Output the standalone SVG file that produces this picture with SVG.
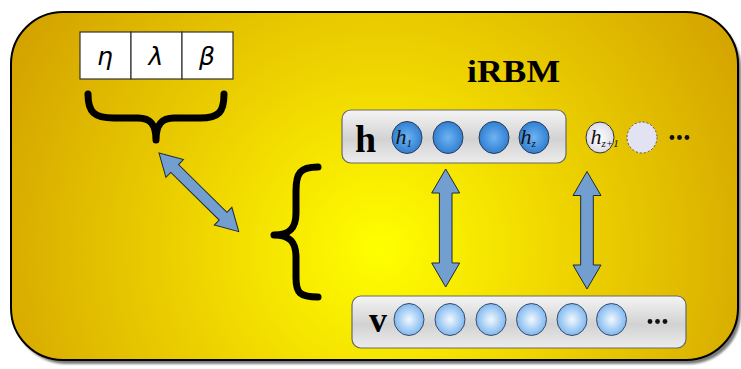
<svg xmlns="http://www.w3.org/2000/svg" width="741" height="369" viewBox="0 0 741 369">
  <defs>
    <radialGradient id="bg" gradientUnits="userSpaceOnUse" cx="380" cy="250" r="430">
      <stop offset="0" stop-color="#ffff00"/>
      <stop offset="0.35" stop-color="#f2dc00"/>
      <stop offset="1" stop-color="#d2a000"/>
    </radialGradient>
    <linearGradient id="layer" x1="0" y1="0" x2="0" y2="1">
      <stop offset="0" stop-color="#f4f4f4"/>
      <stop offset="0.55" stop-color="#d2d2d2"/>
      <stop offset="1" stop-color="#ececec"/>
    </linearGradient>
    <radialGradient id="hid" cx="0.5" cy="0.5" r="0.55">
      <stop offset="0" stop-color="#6fb4f2"/>
      <stop offset="1" stop-color="#2a7ad0"/>
    </radialGradient>
    <radialGradient id="vis" cx="0.5" cy="0.5" r="0.55">
      <stop offset="0" stop-color="#f2f8ff"/>
      <stop offset="1" stop-color="#74b2ee"/>
    </radialGradient>
    <radialGradient id="grow" cx="0.5" cy="0.5" r="0.55">
      <stop offset="0" stop-color="#ffffff"/>
      <stop offset="1" stop-color="#d8d8e4"/>
    </radialGradient>
    <filter id="soft" x="-5%" y="-5%" width="110%" height="110%">
      <feGaussianBlur stdDeviation="1.2"/>
    </filter>
  </defs>
  <style>
    .layer { fill: url(#layer); stroke: #6a6a6a; stroke-width: 1.2; }
    .hu { fill: url(#hid); stroke: #2c3b55; stroke-width: 1; }
    .vu { fill: url(#vis); stroke: #3a4a66; stroke-width: 1; }
    .arrow { fill: #729fcf; stroke: #1e2a38; stroke-width: 1; stroke-linejoin: miter; }
    .brace { fill: none; stroke: #000; stroke-width: 7; stroke-linecap: round; stroke-linejoin: round; }
    .cell { fill: #ffffff; stroke: #333; stroke-width: 1.2; }
    .greek { font-family: "DejaVu Sans", sans-serif; font-style: italic; font-size: 25px; fill: #000; text-anchor: middle; }
    .big { font-family: "Liberation Serif", serif; font-weight: bold; fill: #000; }
    .mi { font-family: "Liberation Serif", serif; font-style: italic; fill: #111; }
    .dot { fill: #111; }
  </style>

  <!-- outer panel with drop shadow -->
  <rect x="14" y="16" width="727" height="348" rx="52" fill="#7a7a7a" filter="url(#soft)"/>
  <rect x="11" y="12" width="727" height="348" rx="52" fill="url(#bg)" stroke="#000" stroke-width="2"/>

  <!-- hyper-parameter table -->
  <g id="params">
    <rect class="cell" x="80" y="32" width="51" height="47"/>
    <rect class="cell" x="131" y="32" width="51" height="47"/>
    <rect class="cell" x="182" y="32" width="51" height="47"/>
    <text class="greek" x="105" y="65">η</text>
    <text class="greek" x="156" y="65">λ</text>
    <text class="greek" x="207" y="65">β</text>
  </g>

  <!-- braces -->
  <g id="param-brace">
    <path class="brace" d="M88,94 C88,112 94,118 114,118 L138,118 C150,118 156,124 156,140 C156,124 162,118 174,118 L200,118 C219,118 224,112 224,94"/>
  </g>
  <g id="model-brace">
    <path class="brace" d="M318,167 C300,167 296,173 296,191 L296,213 C296,228 290,235 274,235 C290,235 296,242 296,257 L296,278 C296,293 300,297 318,297"/>
  </g>

  <g id="title">
    <text class="big" x="467" y="82" font-size="31" textLength="93" lengthAdjust="spacingAndGlyphs">iRBM</text>
  </g>

  <!-- hidden layer -->
  <g id="hidden-layer">
    <rect class="layer" x="342" y="110" width="224" height="53" rx="9"/>
    <text class="big" x="355" y="152" font-size="38">h</text>
    <ellipse class="hu" cx="407" cy="137.5" rx="15" ry="16"/>
    <ellipse class="hu" cx="448" cy="137.5" rx="15" ry="16"/>
    <ellipse class="hu" cx="494" cy="137.5" rx="15" ry="16"/>
    <ellipse class="hu" cx="534" cy="137.5" rx="15" ry="16"/>
    <text class="mi" x="395.5" y="143.5" font-size="22">h<tspan font-size="11" dy="3">1</tspan></text>
    <text class="mi" x="520.5" y="143.5" font-size="22">h<tspan font-size="11" dy="3">z</tspan></text>
  </g>

  <!-- units added as the model grows -->
  <g id="growth-units">
    <ellipse cx="600" cy="137.5" rx="14" ry="15.5" fill="url(#grow)" stroke="#333" stroke-width="1"/>
    <text class="mi" x="590.5" y="143.5" font-size="22">h<tspan font-size="11" dy="3">z+1</tspan></text>
    <ellipse cx="642" cy="137.5" rx="15" ry="15.5" fill="#e2e2f2" stroke="#555" stroke-width="1" stroke-dasharray="2,2"/>
    <circle class="dot" cx="672" cy="137.5" r="2.4"/>
    <circle class="dot" cx="679.5" cy="137.5" r="2.4"/>
    <circle class="dot" cx="687" cy="137.5" r="2.4"/>
  </g>

  <!-- visible layer -->
  <g id="visible-layer">
    <rect class="layer" x="352" y="296" width="334" height="52" rx="9"/>
    <text class="big" x="369" y="332" font-size="36">v</text>
    <ellipse class="vu" cx="409" cy="319.5" rx="15" ry="16"/>
    <ellipse class="vu" cx="450" cy="319.5" rx="15" ry="16"/>
    <ellipse class="vu" cx="491" cy="319.5" rx="15" ry="16"/>
    <ellipse class="vu" cx="531.5" cy="319.5" rx="15" ry="16"/>
    <ellipse class="vu" cx="572" cy="319.5" rx="15" ry="16"/>
    <ellipse class="vu" cx="611.5" cy="319.5" rx="15" ry="16"/>
    <circle class="dot" cx="650" cy="321.5" r="2.4"/>
    <circle class="dot" cx="657.5" cy="321.5" r="2.4"/>
    <circle class="dot" cx="665" cy="321.5" r="2.4"/>
  </g>

  <!-- connectors: two-headed block arrows -->
  <g id="connectors">
    <path class="arrow" transform="translate(159,153) rotate(44.6)" d="M0,0 L22,-12.5 L22,-5.5 L90,-5.5 L90,-12.5 L112,0 L90,12.5 L90,5.5 L22,5.5 L22,12.5 Z"/>
    <path class="arrow" transform="translate(445.7,169) rotate(90)" d="M0,0 L24,-14 L24,-6.3 L94,-6.3 L94,-14 L118,0 L94,14 L94,6.3 L24,6.3 L24,14 Z"/>
    <path class="arrow" transform="translate(587,171.5) rotate(90)" d="M0,0 L24,-14 L24,-6.3 L93.5,-6.3 L93.5,-14 L117.5,0 L93.5,14 L93.5,6.3 L24,6.3 L24,14 Z"/>
  </g>
</svg>
